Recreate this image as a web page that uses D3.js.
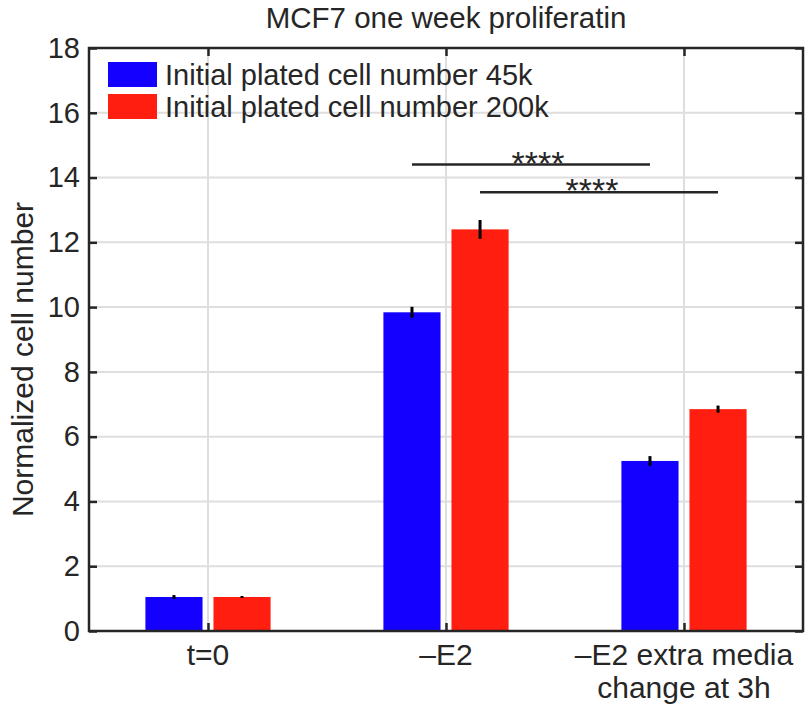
<!DOCTYPE html>
<html>
<head>
<meta charset="utf-8">
<script src="https://cdn.jsdelivr.net/npm/d3@7"></script>
<style>
  html, body { margin: 0; padding: 0; background: #fff; }
  svg { display: block; }
  text { font-family: "Liberation Sans", Arial, Helvetica, sans-serif; fill: #262626; }
</style>
</head>
<body>
<svg id="chart" width="811" height="708"></svg>
<script>
// Group labels along the x axis (multi-line labels split on "\n")
const categories = ["t=0", "\u2013E2", "\u2013E2 extra media\nchange at 3h"];
// Mean normalized cell number and error for each plating density
const values45k  = [1.05, 9.84, 5.25];
const errors45k  = [0.06, 0.17, 0.15];
const values200k = [1.05, 12.40, 6.85];
const errors200k = [0.03, 0.29, 0.11];
const seriesNames = ["Initial plated cell number 45k", "Initial plated cell number 200k"];
const seriesColors = ["#1400ff", "#ff1e10"];
const yTicks = [0, 2, 4, 6, 8, 10, 12, 14, 16, 18];
// Significance brackets: [group, series] to [group, series], height in data units
const sigFrom  = [[1, 0], [1, 1]];
const sigTo    = [[2, 0], [2, 1]];
const sigLevel = [14.4, 13.55];
const sigLabel = ["****", "****"];

const svg = d3.select("#chart");
const margin = { left: 89, right: 8, top: 48, bottom: 77 };
const W = 811, H = 708;
const x0 = margin.left, x1 = W - margin.right, y0 = H - margin.bottom, y1 = margin.top;

const x = d3.scaleLinear().domain([0.5, categories.length + 0.5]).range([x0, x1]);
const y = d3.scaleLinear().domain([0, 18]).range([y0, y1]);
const barOffset = [-0.143, 0.143];
const barWidth = 0.24;

const series = [
  { name: seriesNames[0], color: seriesColors[0], values: values45k, errors: errors45k },
  { name: seriesNames[1], color: seriesColors[1], values: values200k, errors: errors200k }
];

// Grid lines
const grid = svg.append("g");
grid.selectAll("line.h").data(yTicks).join("line")
  .attr("x1", x0).attr("x2", x1)
  .attr("y1", d => y(d)).attr("y2", d => y(d))
  .attr("stroke", "#dedede").attr("stroke-width", 2);
grid.selectAll("line.v").data(categories.map((c, i) => i + 1)).join("line")
  .attr("x1", d => x(d)).attr("x2", d => x(d))
  .attr("y1", y0).attr("y2", y1)
  .attr("stroke", "#dedede").attr("stroke-width", 2);

// Bars and error bars
series.forEach((s, si) => {
  const g = svg.append("g");
  g.selectAll("rect").data(s.values).join("rect")
    .attr("x", (d, i) => x(i + 1 + barOffset[si] - barWidth / 2))
    .attr("width", x(barWidth) - x(0))
    .attr("y", d => y(d))
    .attr("height", d => y(0) - y(d))
    .attr("fill", s.color);
  g.selectAll("line").data(s.values).join("line")
    .attr("x1", (d, i) => x(i + 1 + barOffset[si]))
    .attr("x2", (d, i) => x(i + 1 + barOffset[si]))
    .attr("y1", (d, i) => y(d - s.errors[i]))
    .attr("y2", (d, i) => y(d + s.errors[i]))
    .attr("stroke", "#000").attr("stroke-width", 3);
});

// Axes box with inward ticks on all sides
const tickLen = 8;
const axisColor = "#262626";
const axL = d3.axisLeft(y).tickValues(yTicks).tickSizeInner(-tickLen).tickSizeOuter(0).tickPadding(9);
const axR = d3.axisRight(y).tickValues(yTicks).tickSizeInner(-tickLen).tickSizeOuter(0).tickFormat("");
const xTickVals = categories.map((c, i) => i + 1);
const axB = d3.axisBottom(x).tickValues(xTickVals).tickSizeInner(-tickLen).tickSizeOuter(0).tickFormat("");
const axT = d3.axisTop(x).tickValues(xTickVals).tickSizeInner(-tickLen).tickSizeOuter(0).tickFormat("");

function styleAxis(g) {
  g.select(".domain").remove();
  g.selectAll(".tick line").attr("stroke", axisColor).attr("stroke-width", 2.5);
  g.selectAll(".tick text").attr("fill", axisColor).style("font-size", "29px")
    .style("font-family", "'Liberation Sans', Arial, Helvetica, sans-serif");
}
svg.append("g").attr("transform", `translate(${x0},0)`).call(axL).call(styleAxis);
svg.append("g").attr("transform", `translate(${x1},0)`).call(axR).call(styleAxis);
svg.append("g").attr("transform", `translate(0,${y0})`).call(axB).call(styleAxis);
svg.append("g").attr("transform", `translate(0,${y1})`).call(axT).call(styleAxis);

svg.append("rect")
  .attr("x", x0).attr("y", y1).attr("width", x1 - x0).attr("height", y0 - y1)
  .attr("fill", "none").attr("stroke", axisColor).attr("stroke-width", 2.5);

// Category labels
const xl = svg.append("g");
categories.forEach((c, i) => {
  const t = xl.append("text")
    .attr("x", x(i + 1)).attr("y", y0 + 34)
    .attr("text-anchor", "middle").style("font-size", "30px");
  c.split("\n").forEach((line, li) => {
    t.append("tspan").attr("x", x(i + 1)).attr("dy", li === 0 ? 0 : 33).text(line);
  });
});

// Y axis label
svg.append("text")
  .attr("transform", `translate(33,${(y0 + y1) / 2 + 20}) rotate(-90)`)
  .attr("text-anchor", "middle").style("font-size", "30px")
  .text("Normalized cell number");

// Title
svg.append("text")
  .attr("x", (x0 + x1) / 2).attr("y", 28)
  .attr("text-anchor", "middle").style("font-size", "29.5px")
  .text("MCF7 one week proliferatin");

// Significance brackets
const sig = svg.append("g");
sigLevel.forEach((lv, k) => {
  const xa = x(sigFrom[k][0] + 1 + barOffset[sigFrom[k][1]]);
  const xb = x(sigTo[k][0] + 1 + barOffset[sigTo[k][1]]);
  sig.append("line")
    .attr("x1", xa).attr("x2", xb).attr("y1", y(lv)).attr("y2", y(lv))
    .attr("stroke", axisColor).attr("stroke-width", 2.5);
  sig.append("text")
    .attr("x", (xa + xb) / 2 + (k === 0 ? 7 : -7)).attr("y", y(lv) + 10)
    .attr("text-anchor", "middle").style("font-size", "34px").attr("fill", "#000")
    .text(sigLabel[k]);
});

// Legend
const legend = svg.append("g");
series.forEach((s, si) => {
  const top = 62 + si * 32;
  legend.append("rect")
    .attr("x", 108).attr("y", top).attr("width", 49).attr("height", 25)
    .attr("fill", s.color);
  legend.append("text")
    .attr("x", 165).attr("y", top + 23)
    .style("font-size", "29px").attr("fill", "#000")
    .text(s.name);
});
</script>
</body>
</html>
